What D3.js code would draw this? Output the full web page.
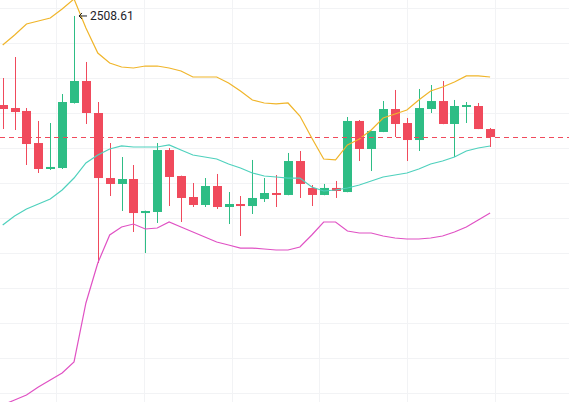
<!DOCTYPE html>
<html><head><meta charset="utf-8">
<script src="https://cdn.jsdelivr.net/npm/d3@7"></script>
<style>html,body{margin:0;padding:0;background:#fff;overflow:hidden}</style>
</head><body>
<svg id="c" width="569" height="402"></svg>
<script>
const opens  = [2381.4,2377.1,2372.9,2327.1,2290.0,2291.4,2384.3,2415.7,2370.0,2277.1,2268.6,2275.7,2227.1,2228.6,2317.1,2280.0,2250.0,2238.6,2265.7,2235.7,2240.0,2237.1,2247.1,2255.7,2252.9,2301.4,2262.9,2252.9,2262.9,2257.1,2358.6,2318.6,2342.9,2375.7,2355.7,2331.4,2375.7,2387.1,2354.3,2378.6,2380.0,2347.1];
const highs  = [2420.0,2450.0,2377.1,2358.6,2355.7,2397.1,2508.61,2442.9,2385.7,2327.1,2307.1,2295.7,2230.5,2327.1,2320.0,2280.5,2270.0,2277.1,2282.9,2257.1,2251.4,2302.9,2277.1,2281.4,2312.9,2315.7,2267.1,2268.6,2272.9,2364.3,2360.0,2344.5,2387.1,2402.9,2362.9,2404.3,2410.0,2415.7,2388.6,2385.7,2384.3,2348.6];
const lows   = [2347.1,2345.7,2295.7,2284.3,2288.6,2290.0,2383.5,2354.3,2155.7,2251.4,2230.0,2200.0,2170.0,2212.9,2237.1,2214.3,2235.7,2235.7,2232.9,2211.4,2194.3,2225.7,2242.9,2235.7,2252.5,2248.6,2237.1,2252.5,2248.6,2256.8,2301.4,2287.1,2342.7,2335.7,2301.4,2315.7,2370.0,2354.0,2307.1,2355.7,2347.0,2321.4];
const closes = [2375.7,2371.4,2325.7,2290.0,2292.9,2385.7,2415.7,2370.0,2277.1,2268.6,2275.7,2227.1,2230.0,2317.1,2278.6,2248.6,2238.6,2265.7,2235.7,2240.0,2237.1,2248.6,2255.7,2252.9,2301.4,2268.6,2252.9,2262.9,2258.6,2358.6,2318.6,2344.3,2375.7,2354.3,2331.4,2377.1,2387.1,2354.3,2380.0,2381.4,2347.1,2335.7];
const bollUpper = [2467.1,2481.4,2497.1,2501.4,2505.7,2518.6,2532.9,2491.4,2455.7,2441.4,2435.7,2434.3,2437.1,2437.1,2434.3,2430.0,2421.4,2421.4,2421.4,2412.9,2401.4,2388.6,2384.3,2382.9,2384.3,2365.7,2334.3,2304.3,2302.9,2324.3,2332.9,2345.7,2362.9,2368.6,2374.3,2388.6,2401.4,2407.1,2414.3,2422.9,2422.9,2421.4];
const bollMid   = [2210.0,2222.9,2232.9,2240.0,2247.1,2260.0,2277.1,2298.6,2310.0,2318.6,2322.9,2321.4,2321.4,2321.4,2324.3,2317.1,2310.0,2307.1,2304.3,2297.1,2291.4,2284.3,2280.0,2278.6,2277.1,2277.1,2264.3,2258.6,2260.0,2262.9,2267.1,2272.9,2278.6,2281.4,2284.3,2290.0,2297.1,2301.4,2307.1,2315.7,2320.0,2322.9];
const bollLower = [1952.9,1960.0,1967.1,1978.6,1988.6,1998.6,2014.3,2098.6,2155.7,2195.7,2207.1,2211.4,2204.3,2205.7,2214.3,2207.1,2200.0,2192.9,2185.7,2181.4,2177.1,2177.1,2175.7,2174.3,2174.3,2178.6,2195.7,2214.3,2214.3,2201.4,2198.6,2198.6,2194.3,2191.4,2190.0,2190.0,2191.4,2194.3,2200.0,2207.1,2217.1,2227.1];
const gridPrices = [2520,2470,2420,2370,2320,2270,2220,2170,2120,2070,2020,1970];
const maxLabel = "2508.61";

const W = 569, H = 402;
const svg = d3.select("#c");
const x = d3.scaleLinear().domain([0, opens.length - 1]).range([2.7, 490.1]);
const y = d3.scaleLinear().domain([1957.14, 2531.43]).range([402, 0]);
const vgrid = [4.45, 11.85, 19.25, 26.6, 34.0, 41.4];
const UP = "#2ebd85", DOWN = "#f04a5c";

// grid
svg.append("g").selectAll("line.h").data(gridPrices).join("line")
  .attr("x1", 0).attr("x2", W).attr("y1", d => Math.round(y(d)) + 0.5).attr("y2", d => Math.round(y(d)) + 0.5)
  .attr("stroke", "#f2f3f5").attr("stroke-width", 1);
svg.append("g").selectAll("line.v").data(vgrid).join("line")
  .attr("y1", 0).attr("y2", H).attr("x1", d => Math.round(x(d)) + 0.5).attr("x2", d => Math.round(x(d)) + 0.5)
  .attr("stroke", "#f2f3f5").attr("stroke-width", 1);

const idx = d3.range(opens.length);
const bw = 9;
const g = svg.append("g");
g.selectAll("line.w").data(idx).join("line")
  .attr("x1", i => Math.round(x(i)) + 0.5).attr("x2", i => Math.round(x(i)) + 0.5)
  .attr("y1", i => y(highs[i])).attr("y2", i => y(lows[i]))
  .attr("stroke", i => closes[i] >= opens[i] ? UP : DOWN).attr("stroke-width", 1);
g.selectAll("rect").data(idx).join("rect")
  .attr("x", i => Math.round(x(i)) + 0.5 - bw / 2)
  .attr("width", bw)
  .attr("y", i => y(Math.max(opens[i], closes[i])))
  .attr("height", i => Math.max(1, Math.abs(y(opens[i]) - y(closes[i]))))
  .attr("fill", i => closes[i] >= opens[i] ? UP : DOWN);

// bands
const line = arr => d3.line().x((d, i) => x(i)).y(d => y(d))(arr);
svg.append("path").attr("d", line(bollUpper)).attr("fill", "none").attr("stroke", "#f0b52a").attr("stroke-width", 1.2);
svg.append("path").attr("d", line(bollMid)).attr("fill", "none").attr("stroke", "#4fd1bd").attr("stroke-width", 1.2);
svg.append("path").attr("d", line(bollLower)).attr("fill", "none").attr("stroke", "#e052c4").attr("stroke-width", 1.2);

// last price dashed line
const last = closes[closes.length - 1];
svg.append("line").attr("x1", 0).attr("x2", W)
  .attr("y1", Math.round(y(last)) + 0.5).attr("y2", Math.round(y(last)) + 0.5)
  .attr("stroke", DOWN).attr("stroke-width", 1).attr("stroke-dasharray", "5,4");

// max label
const mi = highs.indexOf(d3.max(highs));
const mx = x(mi), my = y(highs[mi]);
const lab = svg.append("g").attr("transform", `translate(${mx + 5},${my})`);
lab.append("line").attr("x1", 0).attr("x2", 8).attr("y1", 0).attr("y2", 0).attr("stroke", "#1e2329").attr("stroke-width", 1);
lab.append("path").attr("d", "M3,-3 L0,0 L3,3").attr("fill", "none").attr("stroke", "#1e2329").attr("stroke-width", 1);
lab.append("text").attr("x", 11).attr("y", 4.5).text(maxLabel)
  .attr("font-family", "Roboto, 'Liberation Sans', Arial, sans-serif").attr("font-size", 12).attr("fill", "#1e2329");
</script>
</body></html>
